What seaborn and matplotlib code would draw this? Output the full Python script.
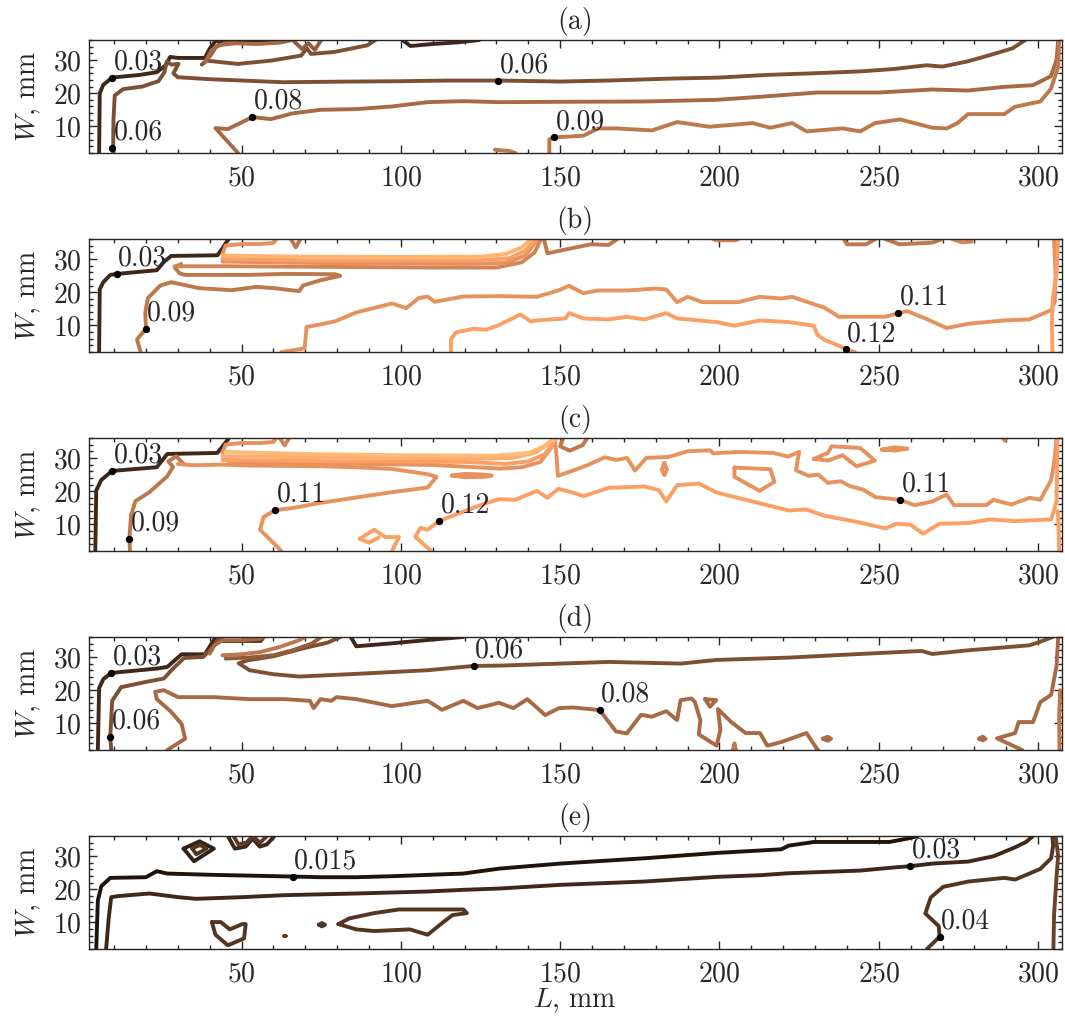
import matplotlib
matplotlib.use("Agg")
import matplotlib.pyplot as plt
from matplotlib.ticker import MultipleLocator
import pandas as pd
import seaborn as sns

# ---------------- panel (a): contour lines as (L, W) points ----------------
a_003 = [(5.3, 2), (5.5, 20), (6.6, 22.5), (9.4, 24.7), (18, 25.5), (23.4, 26.3), (26.2, 28.4),
         (27.6, 30.9), (30.1, 30.6), (38.5, 30.6), (40, 33.4), (41.6, 35.4), (42, 36)]
a_006 = [(9.7, 2), (9.8, 12), (10.2, 19.3), (12.8, 21.2), (18.9, 22), (23.9, 23.6), (25.8, 26.3),
         (26.5, 29.5), (28, 28.6), (30.2, 28.8), (28.6, 26), (30, 24.8), (40, 24.2), (63, 23.3),
         (85, 23.5), (100, 23.6), (115, 23.8), (131, 23.8), (150, 23.5), (165, 23.8), (185, 24.4),
         (200, 24.7), (215, 25.5), (230, 26), (245, 26.6), (255, 27.3), (265, 28.4), (270, 28),
         (278, 29.6), (285, 31.5), (292, 33.5), (296, 36)]
a_008 = [(48.9, 2), (41.8, 9.5), (45.7, 9.2), (53.4, 12.8), (59.2, 12.2), (65.9, 13.9), (74.8, 15),
         (86, 15.2), (97.2, 16), (108.4, 17.3), (119.6, 17.6), (130.8, 17.3), (150, 17.4),
         (176.5, 17.5), (199, 18), (212.6, 18.9), (230.7, 20.2), (250, 20.2), (266.8, 21.1),
         (278, 20.8), (289.4, 21.9), (298.4, 22.4), (304, 25.1), (305.8, 30), (306.3, 36)]
a_009 = [(146.6, 2), (146.6, 6.1), (148.1, 6.7), (157.3, 7.2), (161.9, 9.4), (167.5, 9.4),
         (178.8, 8.8), (186.7, 11.3), (196.8, 9.9), (210.4, 11), (215.9, 9.6), (222.8, 11),
         (227.3, 8.5), (238.6, 9.4), (244.2, 8.5), (248.8, 11), (256.7, 12.1), (266.8, 9.6),
         (271.3, 9.4), (274.7, 11), (278, 13.7), (289.4, 13.7), (292.7, 15.9), (300.7, 17.5),
         (304, 21.3), (306.3, 27.8), (306.6, 36)]
a_009b = [(129.5, 3.0), (134, 2.6), (136, 2)]
a_top1 = [(37.5, 28.6), (39, 29.8), (48.8, 28.8), (59.3, 29.8), (68.7, 31.3), (70.5, 33.5),
          (71.8, 31.8), (79.1, 32.4), (89.5, 34.4), (92, 36)]
a_top2 = [(38.5, 29.2), (40.5, 32.8), (43, 34.5), (48, 35), (55, 34.8), (62, 35.2), (66, 36)]
a_top3 = [(40, 31), (42, 34), (46, 35.5), (48, 36)]
a_top4 = [(66, 36), (69, 33.3), (71, 35), (73, 33), (75, 36)]
a_top5 = [(42, 36), (43, 35.2), (60, 35.2), (62, 36)]
a_top6 = [(100.5, 36), (103, 34.2), (110, 34.8), (118, 35.3), (124.6, 36)]

# ---------------- panel (b) ----------------
b_003 = [(5.3, 2), (5.5, 20.9), (6.6, 23), (8.8, 25.2), (10.9, 25.5), (23.4, 26.6), (25.5, 29),
         (27.9, 30.9), (42.4, 31.1), (44.1, 33.3), (45.7, 35.7), (46, 36)]
b_009 = [(18.3, 2), (17.2, 5.8), (20, 9), (19.8, 13.9), (20.6, 18.2), (24.5, 22), (27.9, 23),
         (36.8, 21.2), (46.9, 20.6), (54.7, 21.6), (60.3, 21.2), (68.1, 20.3), (69.3, 22),
         (74.8, 23.6), (81, 24.9), (79.3, 25.4), (63.6, 25.5), (52.5, 25.2), (32.3, 25.2),
         (30.6, 25.6), (29, 27.5), (31, 28.5)]
b_011 = [(62.5, 2), (69.8, 3.1), (70.4, 9.5), (79.3, 11.2), (86, 13.9), (97.2, 16.6), (101.7, 15.2),
         (105.6, 18.2), (108.4, 18.7), (110.6, 17.1), (119.6, 18.7), (131.4, 18.8), (142.7, 18.6),
         (149.4, 20.5), (152.8, 21.9), (157.3, 19.7), (161.9, 20.5), (170.9, 20.5), (179.9, 21.1),
         (183.3, 20.8), (186.7, 17), (190.1, 18.6), (194.6, 17), (205.9, 17), (212.6, 18.6),
         (219.4, 18.1), (222.8, 18.6), (233, 15.3), (237.5, 12.6), (247.6, 12.6), (252.1, 12.6),
         (256.1, 13.7), (258.9, 14.3), (264.6, 12.1), (271.3, 9.2), (278.1, 10.5), (289.4, 11.5),
         (297.3, 11.8), (304.1, 14.6), (305.2, 17), (305.5, 25), (305, 36)]
b_012 = [(115.7, 2), (115.7, 5.8), (117.3, 7.9), (122.9, 9), (126.8, 8.7), (130.8, 10.1),
         (137.5, 13.3), (140.8, 11.2), (142.7, 11.5), (151.7, 12.1), (152.8, 13.7), (157.3, 12.1),
         (165.2, 11.8), (170.9, 12.6), (176.5, 11.8), (183.3, 13.7), (186.7, 12.1), (199.1, 11),
         (204.7, 9.9), (212.6, 11.5), (221.7, 11), (229.6, 9.9), (230.7, 7.2), (233, 5.6),
         (237.5, 3.9), (239.7, 2.8), (242.5, 2)]
b_012r = [(304.5, 2), (304.3, 10), (304.6, 18), (305.8, 26), (306.3, 36)]
b_top1 = [(29, 27.8), (45, 27.8), (80, 27.6), (110, 27.4), (130, 27.4), (138, 29), (142, 32), (144, 36)]
b_top2 = [(44, 30.0), (70, 29.6), (100, 29.6), (125, 29.6), (134, 30.2), (139, 32.5), (142.5, 36)]
b_top3 = [(44, 31), (70, 30.7), (100, 30.6), (125, 30.7), (133, 31.5), (138, 33.5), (141, 36)]
b_top4 = [(44, 29.2), (80, 28.7), (120, 28.5), (133, 28.8), (139, 31), (143, 36)]
b_top5 = [(44, 31.5), (45, 34), (50, 34.5), (56, 34.5), (60, 34.8), (61, 36)]
b_top6 = [(65.5, 36), (67, 33.5), (68.5, 36)]
b_top7 = [(144.9, 36), (146, 31.7), (154, 33.3), (159.6, 34.4), (165.2, 34.2), (168, 36)]
b_top8 = [(198, 36), (199, 35.6), (205, 35.6), (206, 36)]
b_top9 = [(239, 36), (240, 34.4), (246, 34.4), (249, 36)]
b_top10 = [(252, 36), (256.5, 34.4), (266.8, 34.9), (270, 36)]
b_top11 = [(273, 36), (276, 35), (279, 35.2)]

# ---------------- panel (c) ----------------
c_003 = [(4.1, 2), (4.4, 20.2), (6, 23.4), (9.4, 26.1), (23.4, 27.2), (26.7, 31.2), (42.4, 31.5),
         (45.7, 35.5), (46, 36)]
c_009 = [(15, 2), (14.8, 5.7), (15.3, 12.7), (16.7, 17), (21.1, 19.7), (26.7, 24.5), (28.5, 27.3),
         (27, 29), (29.5, 30.5), (32, 28)]
c_011 = [(62.5, 2), (59.2, 5.2), (55.8, 8.4), (56.9, 12.2), (60.5, 14.3), (65.9, 14.9), (74.8, 16.5),
         (86, 18.1), (97.2, 19.7), (108.4, 21.1), (111.2, 24.3), (108.4, 25.1), (97.2, 26.7),
         (86, 27.2), (74.8, 27.5), (52.5, 27.7), (43.5, 28), (35, 27.8), (30, 28.2)]
c_011r = [(148.3, 36), (148.8, 31), (149.3, 24.6), (154, 26.2), (158.5, 27.8), (164, 30.2),
          (167.5, 29.4), (171, 30), (173.5, 26.2), (177, 30), (184, 30.3), (190, 32), (197, 32.3),
          (198, 31.4), (206, 31.8), (217, 31.5), (221.5, 30.4), (225, 31.8), (224, 26.3), (228, 24.6),
          (231, 25), (234, 22.5), (238, 23), (241, 21.5), (245, 20.5), (249, 18.2), (256.7, 17.4),
          (261.2, 15.8), (266.8, 16.9), (271.3, 19), (273.6, 15.8), (283.7, 15.8), (286, 17.4),
          (291.6, 16), (297.3, 18), (300.7, 17.4), (304.1, 23.4), (305.2, 29.8), (305.8, 36)]
c_012 = [(109.5, 2), (104.5, 6.3), (106.2, 9), (108.4, 8.4), (112.1, 11.1), (119.6, 13.8),
         (125.2, 15.9), (130.8, 17.6), (135.9, 17.4), (142.7, 20.1), (146, 18), (149.4, 20.7),
         (153.9, 19.6), (157.3, 18.5), (165.2, 21), (176.5, 21.4), (181, 20.3), (183.3, 16.9),
         (186.7, 21.8), (193.5, 22.3), (199.1, 19.6), (210.4, 16.9), (221.7, 14.2), (227.3, 14.5),
         (233, 12.6), (242, 11), (252.1, 8.8), (255.5, 10.2), (260, 9.9), (263.9, 7.2), (269, 10.2),
         (278, 10.4), (284.8, 11.5), (292.8, 11), (304.1, 11.5), (305.8, 16.9), (306.1, 36)]
c_012a = [(87.1, 5.7), (91.6, 8.4), (95, 6.2), (99.4, 6.2), (97.2, 2)]
c_012b = [(87.1, 5.7), (90, 4.5), (93, 6)]
c_012c = [(306.6, 2), (306.4, 10), (306.2, 14)]
c_blob = [(116, 24.7), (120, 25.2), (126, 25.0), (128.5, 24.7), (126, 24.3), (120, 24.2), (116, 24.7)]
c_isl1 = [(204.7, 27.1), (216, 26.6), (217.2, 22.8), (212.6, 20.1), (204.7, 24.3), (204.7, 27.1)]
c_isl2 = [(229.6, 29.7), (234, 31.5), (235.2, 33.5), (244.2, 33), (248.8, 29.2), (243, 27.5),
          (238.6, 30.8), (234.1, 29.2), (229.6, 29.7)]
c_isl3 = [(251, 32.5), (255, 33.2), (259, 32.8), (255, 32.2), (251, 32.5)]
c_isl4 = [(182.7, 28.5), (183.5, 26.5), (182.7, 24.8), (181.9, 26.5), (182.7, 28.5)]
c_isl5 = [(151, 36), (150, 33.5), (153, 32.2), (157, 33.8), (158.5, 36)]
c_isl6 = [(289, 36), (289.5, 35.2), (290, 36)]
c_top1 = [(45, 31.8), (70, 31.2), (100, 30.8), (130, 30.7), (140, 31.5), (145, 33.5), (148, 36)]
c_top2 = [(44, 30.5), (70, 30.2), (100, 30), (125, 29.8), (135, 30), (142, 31.5), (146, 34), (148.5, 36)]
c_top3 = [(44, 29.4), (80, 29), (120, 28.8), (133, 28.2), (140, 29), (145, 31), (149, 36)]
c_top4 = [(46, 28.6), (80, 28.3), (110, 27.9), (131, 26.8), (138, 27.2), (143.8, 28.8), (147.2, 33.1), (148.3, 36)]
c_top5 = [(44, 31.5), (45, 34), (50, 34.5), (56, 34.5), (60, 34.8), (61, 36)]
c_top6 = [(62, 36), (63.5, 33.8), (65, 36)]

# ---------------- panel (d) ----------------
d_003 = [(4.9, 2), (5.3, 20.6), (6.6, 23.3), (9.1, 25.2), (23.4, 26.5), (26.7, 27), (31.2, 30.8),
         (38.5, 30.8), (41.3, 35.1), (42, 36)]
d_003t = [(84.3, 36), (86, 33.2), (97.2, 34.1), (108.4, 35.1), (119.6, 36)]
d_006 = [(9.1, 2), (8.8, 6), (9.4, 16.8), (12.2, 20.9), (21.1, 22.7), (25.6, 23.5), (28.5, 26.5),
         (32, 29.7), (38, 30), (40.5, 32.5), (43, 35.5), (44, 36)]
d_006b = [(81, 36), (77, 34.3), (69, 32.5), (60, 30.2), (52, 29), (49.1, 28.1), (52.5, 26), (60, 24.8),
          (68.1, 24.1), (86, 24.9), (108.4, 26), (122.9, 27.3), (131.4, 27.4), (150, 28), (165.2, 28.5),
          (187.8, 28), (199.1, 29.1), (221.7, 29.8), (244.2, 30.9), (263.4, 31.8), (266.8, 30.9),
          (278.1, 32), (297.3, 33.5), (300.7, 34.6), (304.6, 36)]
d_008 = [(26.7, 2), (32.3, 5.4), (31.2, 9.8), (27.9, 13.5), (23.4, 17.3), (22.9, 19.5), (25.6, 20),
         (30.1, 17.9), (41.3, 17.9), (52.5, 17.3), (63.6, 17.3), (71.5, 16.8), (72.6, 14.6),
         (74.8, 17.3), (78.2, 16.8), (79.8, 17.9), (86, 17.3), (97.2, 15.2), (108.4, 16.8),
         (112.9, 14.1), (119.6, 16.8), (124.1, 14.6), (130.8, 16.2), (135.3, 14.6), (139.7, 17.3),
         (145.3, 12.5), (149.6, 14.6), (154, 14.8), (162.4, 14), (167.5, 7.6), (170.9, 7),
         (175.4, 12.6), (178.8, 12), (183.3, 13.7), (186.7, 11), (187.8, 17), (191.2, 17.5),
         (192.3, 16.4), (194, 11), (193.5, 6.7), (199.1, 3.3), (200.3, 8), (199.5, 14.3),
         (203.7, 10.4), (208.2, 7.1), (212.7, 7.1), (215, 3.3), (219.4, 4.4), (227.3, 7.1),
         (230.7, 2.2), (231, 2)]
d_008t = [(195.5, 17.3), (199, 17), (197, 15), (195.5, 17.3)]
d_008r = [(295, 2), (287.1, 5.5), (292.8, 7.1), (293.9, 10.4), (298.4, 10.4), (300.7, 16.4),
          (304.1, 18.6), (305.8, 27.4), (306.3, 36)]
d_blob1 = [(232.5, 5.4), (234, 6), (235, 5.4), (234, 4.8), (232.5, 5.4)]
d_blob2 = [(281.5, 5.4), (282.6, 6), (283.5, 5.4), (282.6, 4.9), (281.5, 5.4)]
d_blob3 = [(204.2, 2), (204.7, 4), (205.2, 2)]
d_edge = [(306.7, 2), (306.6, 12), (306.9, 20)]
d_top1 = [(40, 31), (41.5, 33.5), (44, 35), (50, 35), (56, 35.5), (57, 36)]
d_top2 = [(44, 30.5), (50, 30.8), (56, 31.5), (62, 33), (68, 35), (70, 36)]
d_top3 = [(45, 29.5), (52, 29.8), (60, 30.5), (66, 32), (72, 34), (75, 36)]
d_top4 = [(42, 36), (44, 34.8), (56, 34.8), (57, 36)]

# ---------------- panel (e) ----------------
e_0015 = [(4.4, 2), (4.9, 16.6), (6, 20.9), (8.8, 23.4), (20, 23.6), (23.4, 25.4), (26.7, 24.7),
          (41.3, 24.3), (66.1, 23.8), (74.8, 23.6), (86, 23.6), (97.2, 23.9), (119.6, 24.7),
          (131, 26.2), (150, 27.7), (176.5, 29.3), (199.1, 30.9), (219.4, 32), (221.7, 33.1),
          (229.6, 34.2), (244.2, 34.2), (253.3, 34.2), (258.9, 35.2), (262.3, 36)]
e_003 = [(7.5, 2), (8.3, 11.2), (9.1, 17.6), (11.1, 17.9), (21.1, 18.7), (30.1, 17.6), (35.7, 17.1),
         (50.2, 17.6), (63.6, 18.2), (86, 18.7), (108.4, 19.3), (119.6, 19.8), (131, 20.2),
         (150, 21.3), (176.5, 22.3), (199.1, 23.7), (212.6, 24.2), (221.7, 24.8), (244.2, 25.6),
         (255.5, 26.6), (259.8, 26.9), (266.8, 27.7), (278, 28.3), (286, 29.9), (292.8, 32.6),
         (296.2, 34.2), (298.4, 36)]
e_004 = [(265.1, 2), (269.1, 5.7), (268.8, 8.9), (264.6, 12.7), (266.3, 17.5), (270.2, 20.7),
         (278.1, 22.3), (289.4, 23.4), (292.8, 22.9), (300.7, 26.1), (304.1, 29.3), (304.7, 33),
         (304.5, 36)]
e_edge = [(304.8, 2), (305, 12), (305.8, 24), (306.3, 30), (305.5, 36)]
e_isl1 = [(40.7, 10.1), (43.5, 10.1), (46.3, 7.9), (50.2, 9.5), (51.3, 9.5), (50.8, 5.2),
          (45.7, 3.1), (41.8, 6.3), (40.7, 10.1)]
e_isl2 = [(80.4, 9.5), (83.8, 11.2), (91.6, 12.8), (99.4, 13.9), (108.4, 13.9), (119.6, 13.9),
          (120.7, 12.8), (116.2, 12.2), (114, 10.6), (108.4, 6.3), (102.8, 7.9), (91.6, 7.4),
          (86, 7.9), (80.4, 9.5)]
e_isl3 = [(74.3, 9.3), (75.2, 9.8), (76.2, 9.3), (75.2, 8.8), (74.3, 9.3)]
e_isl4 = [(63.3, 5.8), (63.9, 5.8)]
e_isl5 = [(31.8, 32.2), (36.8, 34.4), (41.3, 32.2), (35.1, 28.4), (31.8, 32.2)]
e_isl6 = [(34.5, 32.3), (37, 33.3), (39, 32.2), (35.8, 30.5), (34.5, 32.3)]
e_isl7 = [(45.7, 36), (47.9, 32.2), (51.3, 32.8), (53.5, 35.2), (55.7, 32.8), (58, 33.5), (60.3, 36)]
e_isl8 = [(47.5, 36), (49, 33.5), (51.5, 34), (53.5, 36), (55.8, 34), (58, 36)]

# levels belonging to each line
panel_a = [(0.03, a_003), (0.06, a_006), (0.08, a_008), (0.09, a_009), (0.09, a_009b),
           (0.06, a_top1), (0.08, a_top2), (0.07, a_top3), (0.07, a_top4), (0.03, a_top5),
           (0.03, a_top6)]
panel_b = [(0.03, b_003), (0.09, b_009), (0.11, b_011), (0.12, b_012), (0.12, b_012r),
           (0.10, b_top1), (0.12, b_top2), (0.135, b_top3), (0.11, b_top4), (0.11, b_top5),
           (0.09, b_top6), (0.09, b_top7), (0.10, b_top8), (0.09, b_top9), (0.09, b_top10),
           (0.10, b_top11)]
panel_c = [(0.03, c_003), (0.09, c_009), (0.11, c_011), (0.11, c_011r), (0.12, c_012),
           (0.12, c_012a), (0.12, c_012b), (0.12, c_012c), (0.11, c_blob), (0.11, c_isl1),
           (0.11, c_isl2), (0.11, c_isl3), (0.11, c_isl4), (0.09, c_isl5), (0.10, c_isl6),
           (0.14, c_top1), (0.13, c_top2), (0.12, c_top3), (0.11, c_top4), (0.11, c_top5),
           (0.10, c_top6)]
panel_d = [(0.03, d_003), (0.03, d_003t), (0.06, d_006), (0.06, d_006b), (0.08, d_008),
           (0.08, d_008t), (0.08, d_008r), (0.08, d_blob1), (0.08, d_blob2), (0.09, d_blob3),
           (0.09, d_edge), (0.08, d_top1), (0.09, d_top2), (0.07, d_top3), (0.04, d_top4)]
panel_e = [(0.015, e_0015), (0.03, e_003), (0.04, e_004), (0.05, e_edge), (0.04, e_isl1),
           (0.04, e_isl2), (0.04, e_isl3), (0.04, e_isl4), (0.025, e_isl5), (0.04, e_isl6),
           (0.03, e_isl7), (0.045, e_isl8)]

# contour labels: text, L, W
labels_a = [("0.03", 9.4, 24.7), ("0.06", 9.4, 3.6), ("0.08", 53.4, 12.8), ("0.06", 130.5, 23.8),
            ("0.09", 148.1, 6.7)]
labels_b = [("0.03", 10.9, 25.5), ("0.09", 20, 9), ("0.11", 256.1, 13.7), ("0.12", 239.7, 2.8)]
labels_c = [("0.03", 9.4, 26.1), ("0.09", 14.8, 5.7), ("0.11", 60.5, 14.3), ("0.12", 112.1, 11.1),
            ("0.11", 256.7, 17.4)]
labels_d = [("0.03", 9.1, 25.2), ("0.06", 8.8, 6), ("0.06", 122.9, 27.3), ("0.08", 162.4, 14)]
labels_e = [("0.015", 66.1, 23.8), ("0.03", 259.8, 26.9), ("0.04", 269.1, 5.7)]

titles = ["(a)", "(b)", "(c)", "(d)", "(e)"]
panels = [panel_a, panel_b, panel_c, panel_d, panel_e]
labels = [labels_a, labels_b, labels_c, labels_d, labels_e]


def to_frame(lines):
    rows = []
    for seg, (lev, pts) in enumerate(lines):
        for L, W in pts:
            rows.append((L, W, lev, seg))
    return pd.DataFrame(rows, columns=["L", "W", "level", "seg"])


sns.set_style("ticks")
plt.rcParams["font.family"] = "serif"
plt.rcParams["font.serif"] = ["cmr10", "DejaVu Serif"]
plt.rcParams["mathtext.fontset"] = "cm"
plt.rcParams["axes.unicode_minus"] = False
plt.rcParams["axes.formatter.use_mathtext"] = True

fs = 20
fig = plt.figure(figsize=(10.65, 10.23), dpi=100)
for k in range(5):
    top_px = 40 + 199 * k
    ax = fig.add_axes([88.6 / 1065, 1 - (top_px + 113) / 1023, 973.4 / 1065, 113 / 1023])
    df = to_frame(panels[k])
    sns.lineplot(data=df, x="L", y="W", hue="level", units="seg", estimator=None, sort=False,
                 palette="copper", hue_norm=(0, 0.15), legend=False, lw=2.8, ax=ax)
    lab = labels[k]
    sns.scatterplot(x=[p[1] for p in lab], y=[p[2] for p in lab], color="black", s=28,
                    linewidth=0, zorder=6, ax=ax)
    for txt, L, W in lab:
        ax.annotate(txt, (L, W), xytext=(1, 6), textcoords="offset points",
                    fontsize=fs, ha="left", va="baseline")

    ax.set_xlim(2, 307.5)
    ax.set_ylim(2, 36)
    ax.set_xticks([50, 100, 150, 200, 250, 300])
    ax.set_yticks([10, 20, 30])
    ax.xaxis.set_minor_locator(MultipleLocator(10))
    ax.yaxis.set_minor_locator(MultipleLocator(2))
    ax.tick_params(which="both", direction="in", top=True, right=True, width=1)
    ax.tick_params(which="major", length=6)
    ax.tick_params(which="minor", length=3)
    ax.tick_params(axis="x", labelsize=fs, pad=9)
    ax.tick_params(axis="y", labelsize=fs, pad=5)
    for sp in ax.spines.values():
        sp.set_linewidth(1)
    ax.set_ylabel(r"$W$, mm", fontsize=fs, labelpad=7)
    ax.set_title(titles[k], fontsize=fs, pad=8)
    if k == 4:
        ax.set_xlabel(r"$L$, mm", fontsize=fs)
        ax.xaxis.set_label_coords(0.5, -0.335)
    else:
        ax.set_xlabel("")

fig.savefig("out.png", dpi=100)
